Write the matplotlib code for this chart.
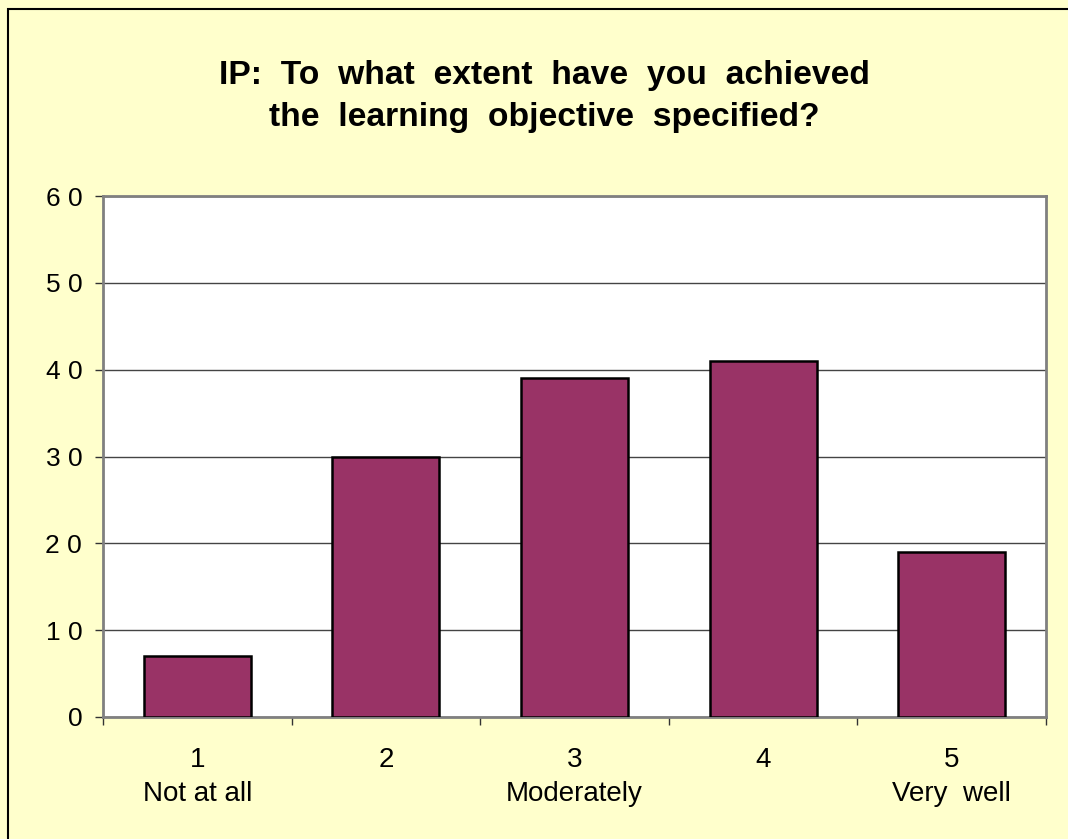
import matplotlib
matplotlib.use("Agg")
import matplotlib.pyplot as plt
from matplotlib.patches import Rectangle
from matplotlib.ticker import FixedLocator

categories = ["1\nNot at all", "2", "3\nModerately", "4", "5\nVery  well"]
values = [7, 30, 39, 41, 19]
y_ticks = [0, 10, 20, 30, 40, 50, 60]
y_tick_labels = ["0", "1 0", "2 0", "3 0", "4 0", "5 0", "6 0"]
title = "IP:  To  what  extent  have  you  achieved\nthe  learning  objective  specified?"

plt.rcParams['font.family'] = ['Liberation Sans', 'DejaVu Sans']

W, H = 1068, 839
fig = plt.figure(figsize=(W / 100, H / 100), dpi=100)
fig.patch.set_facecolor("#FFFFCC")

# outer border
fig.patches.append(Rectangle((8 / W, -0.1), 1.2, 1.1 - 9 / H, transform=fig.transFigure,
                             fill=False, edgecolor="black", linewidth=1.5, zorder=0))

ax = fig.add_axes([103 / W, 1 - 717 / H, (1046 - 103) / W, (717 - 196) / H])
ax.set_facecolor("white")

x = list(range(len(values)))
ax.bar(x, values, width=0.567, color="#993366", edgecolor="black", linewidth=1.8, zorder=3)

ax.set_xlim(-0.5, len(values) - 0.5)
ax.set_ylim(0, 60)

ax.set_yticks(y_ticks)
ax.set_yticklabels(y_tick_labels, fontsize=19)
ax.tick_params(axis="y", direction="out", length=6, width=1, color="#333333", pad=9)

ax.set_xticks(x)
ax.set_xticklabels(categories, fontsize=20, linespacing=1.42, va="top")
ax.tick_params(axis="x", which="major", length=0, pad=21.5)
ax.xaxis.set_minor_locator(FixedLocator([i - 0.5 for i in range(len(values) + 1)]))
ax.tick_params(axis="x", which="minor", direction="out", length=6, width=1, color="#333333")

ax.yaxis.grid(True, color="#444444", linewidth=1, zorder=1)
ax.set_axisbelow(True)

for s in ["top", "right", "left", "bottom"]:
    ax.spines[s].set_color("#808080")
    ax.spines[s].set_linewidth(2)

fig.text(544 / W, 1 - 96.5 / H, title, ha="center", va="center", fontsize=24.2,
         fontweight="bold", linespacing=1.43)

fig.savefig("out.png", dpi=100, facecolor=fig.get_facecolor())
